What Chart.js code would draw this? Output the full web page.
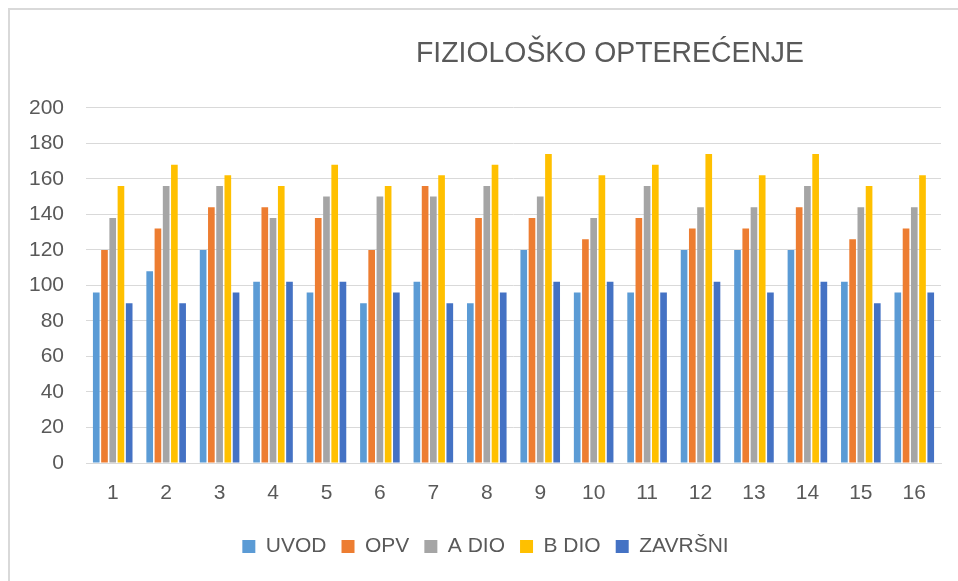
<!DOCTYPE html>
<html>
<head>
<meta charset="utf-8">
<script src="https://cdn.jsdelivr.net/npm/chart.js@4"></script>
<style>
  html, body { margin: 0; padding: 0; background: #fff; }
  #wrap { position: relative; width: 958px; height: 581px; overflow: hidden; }
  #frame { position: absolute; left: 8px; top: 8px; width: 1200px; height: 1200px; border: 2px solid #D9D9D9; box-sizing: border-box; pointer-events: none; }
  canvas { position: absolute; left: 0; top: 0; }
</style>
</head>
<body>
<div id="wrap">
  <canvas id="c" width="958" height="581"></canvas>
  <div id="frame"></div>
</div>
<script>
const title = 'FIZIOLOŠKO OPTEREĆENJE';
const categories = ['1','2','3','4','5','6','7','8','9','10','11','12','13','14','15','16'];
const seriesNames = ['UVOD', 'OPV', 'A DIO', 'B DIO', 'ZAVRŠNI'];
const uvod    = [96, 108, 120, 102, 96, 90, 102, 90, 120, 96, 96, 120, 120, 120, 102, 96];
const opv     = [120, 132, 144, 144, 138, 120, 156, 138, 138, 126, 138, 132, 132, 144, 126, 132];
const aDio    = [138, 156, 156, 138, 150, 150, 150, 156, 150, 138, 156, 144, 144, 156, 144, 144];
const bDio    = [156, 168, 162, 156, 168, 156, 162, 168, 174, 162, 168, 174, 162, 174, 156, 162];
const zavrsni = [90, 90, 96, 102, 102, 96, 90, 96, 102, 102, 96, 102, 96, 102, 90, 96];
const yTicks = [0, 20, 40, 60, 80, 100, 120, 140, 160, 180, 200];

const colors = ['#5B9BD5', '#ED7D31', '#A5A5A5', '#FFC000', '#4472C4'];
const values = [uvod, opv, aDio, bDio, zavrsni];

const txt = '#595959';
const fontFam = '"Liberation Sans", Arial, sans-serif';

const titleShift = {
  id: 'titleShift',
  afterLayout(chart) {
    const tb = chart.titleBlock;
    if (tb) { tb.left = 416; tb.right = 804; tb.width = 388; }
  }
};

new Chart(document.getElementById('c'), {
  type: 'bar',
  data: {
    labels: categories,
    datasets: seriesNames.map((n, i) => ({
      label: n,
      data: values[i],
      backgroundColor: colors[i],
      borderWidth: 0,
      barPercentage: 0.81,
      categoryPercentage: 0.77
    }))
  },
  options: {
    responsive: false,
    animation: false,
    layout: { padding: { top: 0, left: 30, right: 17, bottom: 14 } },
    plugins: {
      title: {
        display: true,
        text: title,
        color: txt,
        font: { family: fontFam, size: 29, weight: 'normal' },
        padding: { top: 37, bottom: 36 }
      },
      legend: {
        position: 'bottom',
        labels: {
          color: txt,
          font: { family: fontFam, size: 21 },
          boxWidth: 13,
          boxHeight: 13,
          padding: 15
        }
      },
      tooltip: { enabled: false }
    },
    scales: {
      x: {
        grid: { display: false, drawTicks: false },
        border: { color: '#D9D9D9', width: 1 },
        ticks: { color: txt, font: { family: fontFam, size: 21 }, padding: 18, maxRotation: 0 },
        afterFit: s => { s.height = 58; }
      },
      y: {
        min: 0, max: 200,
        afterBuildTicks: s => { s.ticks = yTicks.map(v => ({ value: v })); },
        grid: { color: '#D9D9D9', lineWidth: 1, drawTicks: false },
        border: { display: false },
        ticks: { color: txt, font: { family: fontFam, size: 21 }, padding: 22 },
        afterFit: s => { s.width = 56; }
      }
    }
  },
  plugins: [titleShift]
});
</script>
</body>
</html>
